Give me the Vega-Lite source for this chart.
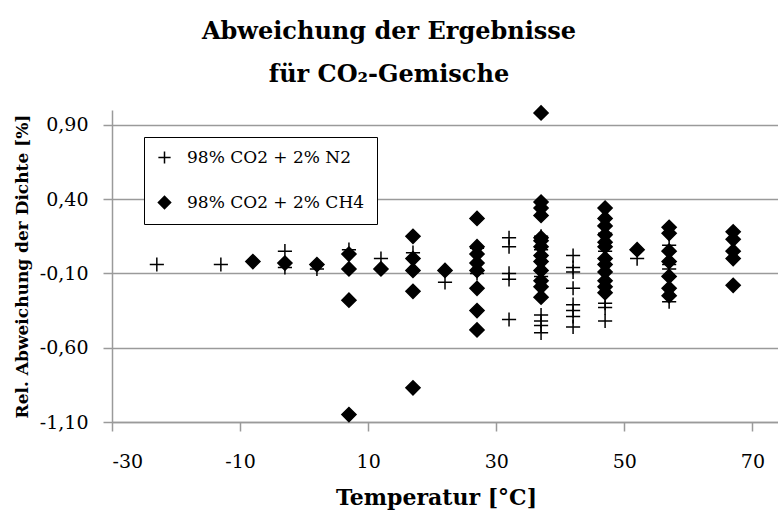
{
  "$schema": "https://vega.github.io/schema/vega-lite/v6.json",
  "width": 666,
  "height": 312,
  "autosize": {"type": "none"},
  "padding": {"left": 112, "top": 110, "right": 0, "bottom": 88},
  "background": "white",
  "title": {
    "text": ["Abweichung der Ergebnisse", "für CO₂-Gemische"],
    "font": "DejaVu Serif",
    "fontSize": 24,
    "fontWeight": "bold",
    "lineHeight": 43,
    "anchor": "middle",
    "dx": -56,
    "offset": 16,
    "color": "black"
  },
  "config": {
    "view": {"stroke": null},
    "legend": {"labelFont": "DejaVu Serif", "labelFontSize": 17, "labelColor": "black", "labelLimit": 400},
    "axis": {
      "domainColor": "#9a9a9a",
      "domainWidth": 1.5,
      "tickColor": "#9a9a9a",
      "tickWidth": 1.5,
      "tickSize": 9,
      "gridColor": "#9a9a9a",
      "gridWidth": 1.5,
      "labelFont": "DejaVu Serif",
      "labelFontSize": 19,
      "labelColor": "black",
      "titleFont": "DejaVu Serif",
      "titleFontWeight": "bold",
      "titleColor": "black"
    }
  },
  "data": {
    "values": [
      {"T": -23, "dev": -0.04, "mix": "98% CO2 + 2% N2"},
      {"T": -13, "dev": -0.04, "mix": "98% CO2 + 2% N2"},
      {"T": -3, "dev": 0.05, "mix": "98% CO2 + 2% N2"},
      {"T": -3, "dev": -0.06, "mix": "98% CO2 + 2% N2"},
      {"T": 2, "dev": -0.07, "mix": "98% CO2 + 2% N2"},
      {"T": 7, "dev": 0.06, "mix": "98% CO2 + 2% N2"},
      {"T": 12, "dev": 0.0, "mix": "98% CO2 + 2% N2"},
      {"T": 17, "dev": 0.04, "mix": "98% CO2 + 2% N2"},
      {"T": 22, "dev": -0.16, "mix": "98% CO2 + 2% N2"},
      {"T": 27, "dev": 0.07, "mix": "98% CO2 + 2% N2"},
      {"T": 27, "dev": -0.10, "mix": "98% CO2 + 2% N2"},
      {"T": 32, "dev": 0.14, "mix": "98% CO2 + 2% N2"},
      {"T": 32, "dev": 0.08, "mix": "98% CO2 + 2% N2"},
      {"T": 32, "dev": -0.10, "mix": "98% CO2 + 2% N2"},
      {"T": 32, "dev": -0.14, "mix": "98% CO2 + 2% N2"},
      {"T": 32, "dev": -0.41, "mix": "98% CO2 + 2% N2"},
      {"T": 37, "dev": 0.15, "mix": "98% CO2 + 2% N2"},
      {"T": 37, "dev": 0.06, "mix": "98% CO2 + 2% N2"},
      {"T": 37, "dev": -0.12, "mix": "98% CO2 + 2% N2"},
      {"T": 37, "dev": -0.38, "mix": "98% CO2 + 2% N2"},
      {"T": 37, "dev": -0.42, "mix": "98% CO2 + 2% N2"},
      {"T": 37, "dev": -0.45, "mix": "98% CO2 + 2% N2"},
      {"T": 37, "dev": -0.50, "mix": "98% CO2 + 2% N2"},
      {"T": 42, "dev": 0.02, "mix": "98% CO2 + 2% N2"},
      {"T": 42, "dev": -0.06, "mix": "98% CO2 + 2% N2"},
      {"T": 42, "dev": -0.09, "mix": "98% CO2 + 2% N2"},
      {"T": 42, "dev": -0.20, "mix": "98% CO2 + 2% N2"},
      {"T": 42, "dev": -0.31, "mix": "98% CO2 + 2% N2"},
      {"T": 42, "dev": -0.35, "mix": "98% CO2 + 2% N2"},
      {"T": 42, "dev": -0.39, "mix": "98% CO2 + 2% N2"},
      {"T": 42, "dev": -0.46, "mix": "98% CO2 + 2% N2"},
      {"T": 47, "dev": 0.17, "mix": "98% CO2 + 2% N2"},
      {"T": 47, "dev": 0.05, "mix": "98% CO2 + 2% N2"},
      {"T": 47, "dev": -0.30, "mix": "98% CO2 + 2% N2"},
      {"T": 47, "dev": -0.33, "mix": "98% CO2 + 2% N2"},
      {"T": 47, "dev": -0.42, "mix": "98% CO2 + 2% N2"},
      {"T": 52, "dev": 0.0, "mix": "98% CO2 + 2% N2"},
      {"T": 57, "dev": 0.09, "mix": "98% CO2 + 2% N2"},
      {"T": 57, "dev": -0.04, "mix": "98% CO2 + 2% N2"},
      {"T": 57, "dev": -0.07, "mix": "98% CO2 + 2% N2"},
      {"T": 57, "dev": -0.29, "mix": "98% CO2 + 2% N2"},
      {"T": -8, "dev": -0.02, "mix": "98% CO2 + 2% CH4"},
      {"T": -3, "dev": -0.03, "mix": "98% CO2 + 2% CH4"},
      {"T": 2, "dev": -0.04, "mix": "98% CO2 + 2% CH4"},
      {"T": 7, "dev": 0.03, "mix": "98% CO2 + 2% CH4"},
      {"T": 7, "dev": -0.07, "mix": "98% CO2 + 2% CH4"},
      {"T": 7, "dev": -0.28, "mix": "98% CO2 + 2% CH4"},
      {"T": 7, "dev": -1.05, "mix": "98% CO2 + 2% CH4"},
      {"T": 12, "dev": -0.07, "mix": "98% CO2 + 2% CH4"},
      {"T": 17, "dev": 0.15, "mix": "98% CO2 + 2% CH4"},
      {"T": 17, "dev": 0.0, "mix": "98% CO2 + 2% CH4"},
      {"T": 17, "dev": -0.08, "mix": "98% CO2 + 2% CH4"},
      {"T": 17, "dev": -0.22, "mix": "98% CO2 + 2% CH4"},
      {"T": 17, "dev": -0.87, "mix": "98% CO2 + 2% CH4"},
      {"T": 22, "dev": -0.08, "mix": "98% CO2 + 2% CH4"},
      {"T": 27, "dev": 0.27, "mix": "98% CO2 + 2% CH4"},
      {"T": 27, "dev": 0.08, "mix": "98% CO2 + 2% CH4"},
      {"T": 27, "dev": 0.03, "mix": "98% CO2 + 2% CH4"},
      {"T": 27, "dev": -0.03, "mix": "98% CO2 + 2% CH4"},
      {"T": 27, "dev": -0.08, "mix": "98% CO2 + 2% CH4"},
      {"T": 27, "dev": -0.20, "mix": "98% CO2 + 2% CH4"},
      {"T": 27, "dev": -0.35, "mix": "98% CO2 + 2% CH4"},
      {"T": 27, "dev": -0.48, "mix": "98% CO2 + 2% CH4"},
      {"T": 37, "dev": 0.98, "mix": "98% CO2 + 2% CH4"},
      {"T": 37, "dev": 0.38, "mix": "98% CO2 + 2% CH4"},
      {"T": 37, "dev": 0.34, "mix": "98% CO2 + 2% CH4"},
      {"T": 37, "dev": 0.29, "mix": "98% CO2 + 2% CH4"},
      {"T": 37, "dev": 0.14, "mix": "98% CO2 + 2% CH4"},
      {"T": 37, "dev": 0.12, "mix": "98% CO2 + 2% CH4"},
      {"T": 37, "dev": 0.08, "mix": "98% CO2 + 2% CH4"},
      {"T": 37, "dev": 0.02, "mix": "98% CO2 + 2% CH4"},
      {"T": 37, "dev": -0.02, "mix": "98% CO2 + 2% CH4"},
      {"T": 37, "dev": -0.08, "mix": "98% CO2 + 2% CH4"},
      {"T": 37, "dev": -0.15, "mix": "98% CO2 + 2% CH4"},
      {"T": 37, "dev": -0.19, "mix": "98% CO2 + 2% CH4"},
      {"T": 37, "dev": -0.26, "mix": "98% CO2 + 2% CH4"},
      {"T": 47, "dev": 0.34, "mix": "98% CO2 + 2% CH4"},
      {"T": 47, "dev": 0.27, "mix": "98% CO2 + 2% CH4"},
      {"T": 47, "dev": 0.22, "mix": "98% CO2 + 2% CH4"},
      {"T": 47, "dev": 0.16, "mix": "98% CO2 + 2% CH4"},
      {"T": 47, "dev": 0.11, "mix": "98% CO2 + 2% CH4"},
      {"T": 47, "dev": 0.08, "mix": "98% CO2 + 2% CH4"},
      {"T": 47, "dev": 0.0, "mix": "98% CO2 + 2% CH4"},
      {"T": 47, "dev": -0.04, "mix": "98% CO2 + 2% CH4"},
      {"T": 47, "dev": -0.09, "mix": "98% CO2 + 2% CH4"},
      {"T": 47, "dev": -0.15, "mix": "98% CO2 + 2% CH4"},
      {"T": 47, "dev": -0.19, "mix": "98% CO2 + 2% CH4"},
      {"T": 47, "dev": -0.23, "mix": "98% CO2 + 2% CH4"},
      {"T": 52, "dev": 0.06, "mix": "98% CO2 + 2% CH4"},
      {"T": 57, "dev": 0.21, "mix": "98% CO2 + 2% CH4"},
      {"T": 57, "dev": 0.17, "mix": "98% CO2 + 2% CH4"},
      {"T": 57, "dev": 0.05, "mix": "98% CO2 + 2% CH4"},
      {"T": 57, "dev": -0.02, "mix": "98% CO2 + 2% CH4"},
      {"T": 57, "dev": -0.12, "mix": "98% CO2 + 2% CH4"},
      {"T": 57, "dev": -0.20, "mix": "98% CO2 + 2% CH4"},
      {"T": 57, "dev": -0.25, "mix": "98% CO2 + 2% CH4"},
      {"T": 67, "dev": 0.18, "mix": "98% CO2 + 2% CH4"},
      {"T": 67, "dev": 0.13, "mix": "98% CO2 + 2% CH4"},
      {"T": 67, "dev": 0.05, "mix": "98% CO2 + 2% CH4"},
      {"T": 67, "dev": 0.0, "mix": "98% CO2 + 2% CH4"},
      {"T": 67, "dev": -0.18, "mix": "98% CO2 + 2% CH4"}
    ]
  },
  "mark": {"type": "point", "stroke": "black", "strokeWidth": 1.5, "opacity": 1, "size": 200},
  "encoding": {
    "x": {
      "field": "T",
      "type": "quantitative",
      "scale": {"domain": [-30, 74], "nice": false, "zero": false},
      "axis": {
        "values": [-30, -10, 10, 30, 50, 70],
        "labelExpr": "replace(format(datum.value, 'd'), '−', '-')",
        "title": "Temperatur [°C]",
        "titleFontSize": 22,
        "grid": false,
        "labelPadding": 21,
        "titlePadding": 16,
        "titleX": 324
      }
    },
    "y": {
      "field": "dev",
      "type": "quantitative",
      "scale": {"domain": [-1.1, 1.0], "nice": false, "zero": false},
      "axis": {
        "values": [-1.1, -0.6, -0.1, 0.4, 0.9],
        "labelExpr": "replace(replace(format(datum.value, '.2f'), '.', ','), '−', '-')",
        "title": "Rel. Abweichung der Dichte [%]",
        "titleFontSize": 17,
        "grid": true,
        "labelPadding": 15,
        "titleX": -90,
        "titleBaseline": "middle"
      }
    },
    "shape": {
      "field": "mix",
      "type": "nominal",
      "scale": {"domain": ["98% CO2 + 2% N2", "98% CO2 + 2% CH4"], "range": ["M-1,0H1M0,-1V1", "diamond"]},
      "legend": {
        "orient": "none", "legendX": 32, "legendY": 27, "title": null,
        "strokeColor": "black", "fillColor": "white", "padding": 12,
        "labelFont": "DejaVu Serif", "labelFontSize": 17, "labelColor": "black", "labelLimit": 400,
        "symbolSize": 150, "rowPadding": 26, "labelOffset": 14,
        "encode": {"symbols": {"update": {"stroke": {"value": "black"}, "strokeWidth": {"value": 1.5}}}}
      }
    },
    "fill": {
      "field": "mix",
      "type": "nominal",
      "scale": {"domain": ["98% CO2 + 2% N2", "98% CO2 + 2% CH4"], "range": ["transparent", "black"]},
      "legend": {
        "orient": "none", "legendX": 32, "legendY": 27, "title": null,
        "strokeColor": "black", "fillColor": "white", "padding": 12,
        "labelFont": "DejaVu Serif", "labelFontSize": 17, "labelColor": "black", "labelLimit": 400,
        "symbolSize": 150, "rowPadding": 26, "labelOffset": 14,
        "encode": {"symbols": {"update": {"stroke": {"value": "black"}, "strokeWidth": {"value": 1.5}}}}
      }
    }
  }
}
